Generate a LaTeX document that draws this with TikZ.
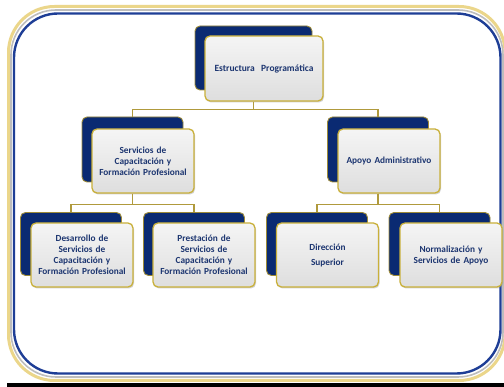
\documentclass[tikz,border=0pt]{standalone}
\usepackage{fontspec}
\newfontfamily\boxfont{Carlito}
\usepackage{tikz}
\usetikzlibrary{shadows}
\definecolor{navy}{HTML}{0A2A72}
\definecolor{navytext}{HTML}{1C3570}
\definecolor{gold}{HTML}{C9B03A}
\definecolor{darkgold}{HTML}{9C8A38}
\definecolor{linegold}{HTML}{B09A3C}
\definecolor{framegold}{HTML}{EBD68A}
\definecolor{framegray}{HTML}{BDBDBD}
\definecolor{frameblue}{HTML}{1E3E96}
\tikzset{backbox/.style={draw=darkgold, line width=0.9pt, fill=navy, rounded corners=5pt,
    minimum width=101pt, minimum height=63pt, inner sep=0pt}}
\tikzset{frontbox/.style={draw=gold, line width=1.3pt, top color=black!4, bottom color=black!13,
    rounded corners=5pt, minimum width=102pt, minimum height=64pt, inner sep=0pt,
    text width=100pt, align=center, text=navytext,
    font=\boxfont\bfseries\fontsize{9.3}{11}\selectfont,
    drop shadow={shadow xshift=1pt, shadow yshift=-1.5pt, opacity=0.35}}}
\tikzstyle{conn} = [draw=linegold, line width=1.2pt]

\begin{document}
\begin{tikzpicture}[x=1pt,y=-1pt]
\useasboundingbox (0,0) rectangle (504,387);
\fill[white] (0,0) rectangle (504,387);

% frame
\draw[framegold, line width=3pt, rounded corners=46pt] (8.5,6.5) rectangle (505,380.5);
\draw[framegray, line width=1.6pt, rounded corners=45pt] (11,10) rectangle (503,377);
\draw[frameblue, line width=2.4pt, rounded corners=44pt] (14,13.5) rectangle (500.5,373.5);
\fill[black] (7,383) rectangle (504,387);

% back boxes
\node[backbox, minimum width=117pt, minimum height=64pt] (topbk) at (253.5,58) {};
\node[backbox, minimum height=65pt] (lbk) at (132.5,149.5) {};
\node[backbox, minimum height=65pt] (rbk) at (378,149.5) {};
\node[backbox] (abk) at (71,244) {};
\node[backbox] (bbk) at (194,244) {};
\node[backbox] (cbk) at (317,244) {};
\node[backbox] (dbk) at (439.5,244) {};

% front boxes
\node[frontbox, minimum width=118pt, minimum height=65pt, text width=116pt,
    font=\boxfont\bfseries\fontsize{9.5}{11}\selectfont] (top) at (264,68.5) {Estructura\ \ Programática};
\node[frontbox] (left) at (143,161) {Servicios de\\Capacitación y\\Formación Profesional};
\node[frontbox] (right) at (389,161) {Apoyo Administrativo};
\node[frontbox] (a) at (82,255) {Desarrollo de\\Servicios de\\Capacitación y\\Formación Profesional};
\node[frontbox] (b) at (204,255) {Prestación de\\Servicios de\\Capacitación y\\Formación Profesional};
\node[frontbox] (c) at (327.5,255) {Dirección\\[4pt]Superior};
\node[frontbox] (d) at (451,255) {Normalización y\\Servicios de Apoyo};

% connectors
\draw[conn] (topbk |- top.south) -- ++(0,8) -| (lbk.north);
\draw[conn] (topbk |- top.south) -- ++(0,8) -| (rbk.north);
\draw[conn] (lbk |- left.south) -- ++(0,11) -| (abk.north);
\draw[conn] (lbk |- left.south) -- ++(0,11) -| (bbk.north);
\draw[conn] (rbk |- right.south) -- ++(0,11) -| (cbk.north);
\draw[conn] (rbk |- right.south) -- ++(0,11) -| (dbk.north);
\end{tikzpicture}
\end{document}
